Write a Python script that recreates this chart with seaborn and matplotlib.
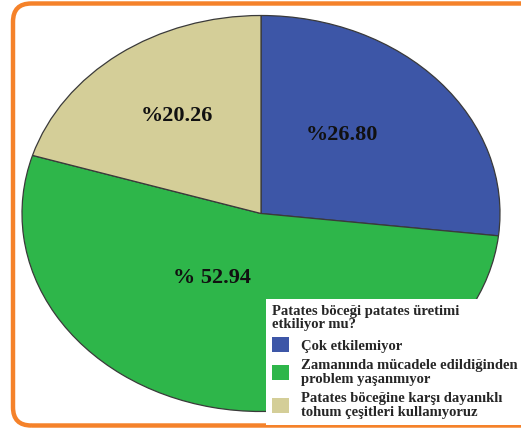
import matplotlib
matplotlib.use("Agg")
import matplotlib.pyplot as plt
import seaborn as sns
from matplotlib.patches import FancyBboxPatch, Patch

sns.set_theme(style="white")
plt.rcParams['font.family'] = ['Liberation Serif', 'DejaVu Serif']

# ---- data ----
categories = ["Çok etkilemiyor",
              "Zamanında mücadele edildiğinden\nproblem yaşanmıyor",
              "Patates böceğine karşı dayanıklı\ntohum çeşitleri kullanıyoruz"]
values = [26.80, 52.94, 20.26]
value_labels = ["%26.80", "% 52.94", "%20.26"]
colors = ["#3D56A7", "#2EB64A", "#D4CE98"]
legend_title = "Patates böceği patates üretimi\netkiliyor mu?"

W, H = 521, 429
fig = plt.figure(figsize=(W / 100, H / 100), dpi=100)
fig.patch.set_facecolor("white")

# ellipse center (261, 213.5), rx 239, ry 198 (pixels)
cx, cy, rx, ry = 261, 213.5, 239, 198
ax = fig.add_axes([(cx - rx) / W, (H - cy - ry) / H, 2 * rx / W, 2 * ry / H])
wedges, _ = ax.pie(values, colors=colors, startangle=90, counterclock=False,
                   wedgeprops=dict(edgecolor="#3a3a3a", linewidth=0.9))
ax.set_aspect("auto")
ax.set_xlim(-1, 1)
ax.set_ylim(-1, 1)
ax.axis("off")

# label positions (normalized ellipse coordinates)
label_pos = [(0.339, 0.396), (-0.205, -0.326), (-0.351, 0.492)]
for lab, (x, y) in zip(value_labels, label_pos):
    ax.text(x, y, lab, ha="center", va="center", fontsize=16,
            fontweight="bold", color="#111111")

# legend
handles = [Patch(facecolor=c, edgecolor="none") for c in colors]
leg = fig.legend(handles, categories, title=legend_title,
                 loc="upper left", bbox_to_anchor=(266 / W, 1 - 299 / H),
                 frameon=True, fancybox=False, framealpha=1,
                 prop=dict(family="Liberation Serif", weight="bold", size=10.5),
                 title_fontproperties=dict(family="Liberation Serif", weight="bold", size=10.5),
                 alignment="left", handlelength=1.2, handleheight=1.2,
                 handletextpad=0.8, labelspacing=0.45, borderpad=0.4,
                 borderaxespad=0)
leg.get_frame().set_facecolor("white")
leg.get_frame().set_edgecolor("white")
leg.get_frame().set_linewidth(0)
for t in leg.get_texts():
    t.set_linespacing(1.05)
leg.get_title().set_linespacing(1.0)

# orange rounded border
border = FancyBboxPatch((13 / W, 3.5 / H), (W + 20 - 13) / W, (H - 7) / H,
                        boxstyle="round,pad=0,rounding_size=0.035",
                        transform=fig.transFigure, fill=False,
                        edgecolor="#F5822A", linewidth=3.2, mutation_aspect=W / H)
fig.patches.append(border)

fig.savefig("out.png", dpi=100)
